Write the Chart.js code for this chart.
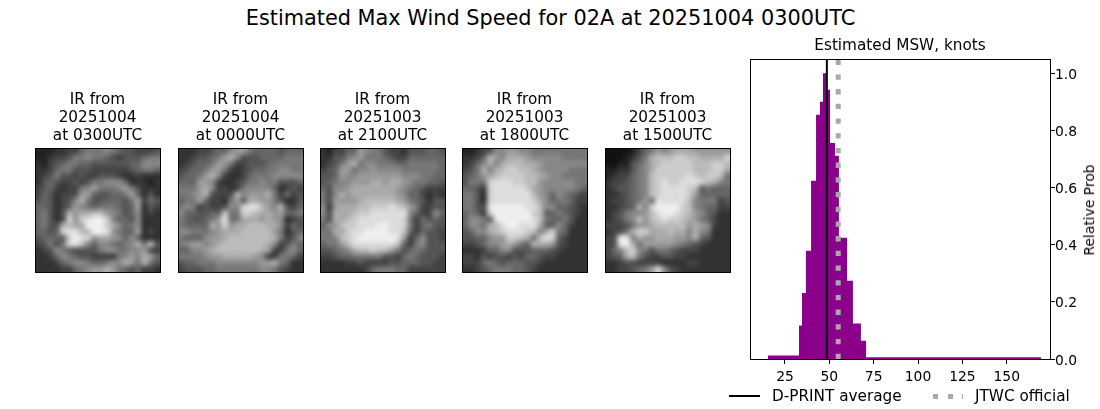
<!DOCTYPE html>
<html lang="en">

<head>
    <meta charset="UTF-8">
    <title>Estimated Max Wind Speed for 02A</title>
    <script src="https://cdn.jsdelivr.net/npm/chart.js"></script>
    <style>
        body { margin: 0; background: #fff; width: 1100px; height: 409px; overflow: hidden; position: relative; font-family: "DejaVu Sans"; color: #000; }
        canvas { position: absolute; }
        .txt { position: absolute; white-space: nowrap; line-height: 1; }
        #suptitle { left: 0; width: 1101px; top: 8px; text-align: center; font-size: 20.83px; }
        #ylabel { left: 1090px; top: 210px; font-size: 13.89px; transform: translate(-50%, -50%) rotate(-90deg); }
        .legend-text { top: 389px; font-size: 15.28px; }
        #key1 { position: absolute; left: 729px; top: 395px; width: 31px; height: 2px; background: #000; }
        #key2 { position: absolute; left: 933px; top: 394px; width: 30px; height: 5px; background: repeating-linear-gradient(90deg, #a9a9a9 0, #a9a9a9 5.3px, transparent 5.3px, transparent 14.7px); }
    </style>
</head>

<body>
    <div class="txt" id="suptitle">Estimated Max Wind Speed for 02A at 20251004 0300UTC</div>

    <canvas id="ir0" width="140" height="190" style="left:28px;top:85px"></canvas>
    <canvas id="ir1" width="140" height="190" style="left:171px;top:85px"></canvas>
    <canvas id="ir2" width="140" height="190" style="left:313px;top:85px"></canvas>
    <canvas id="ir3" width="140" height="190" style="left:455px;top:85px"></canvas>
    <canvas id="ir4" width="140" height="190" style="left:598px;top:85px"></canvas>

    <canvas id="hist" width="400" height="409" style="left:700px;top:0"></canvas>

    <div class="txt" id="ylabel">Relative Prob</div>
    <div id="key1"></div>
    <div class="txt legend-text" style="left:772px">D-PRINT average</div>
    <div id="key2"></div>
    <div class="txt legend-text" style="left:975px">JTWC official</div>

    <script>
        // histogram bins
        const binEdges = [15.4, 32.9, 34.6, 36.8, 39.7, 42.5, 44.7, 46.4, 48.1, 50.4, 53.2, 55.4, 60, 63.3, 67.8, 70.7, 169.3];
        const binHeights = [0.012, 0.117, 0.231, 0.379, 0.624, 0.855, 0.9, 1.0, 0.942, 0.756, 0.711, 0.424, 0.274, 0.124, 0.064, 0.006];
        const dprintAverage = 48.6;
        const jtwcOfficial = 55;
        const xTicks = [25, 50, 75, 100, 125, 150];
        const yTicks = [0, 0.2, 0.4, 0.6, 0.8, 1.0];

        const irDates = ['20251004', '20251004', '20251003', '20251003', '20251003'];
        const irTimes = ['0300', '0000', '2100', '1800', '1500'];

        // coarse grey levels of the IR images (one hex digit per cell, estimated by eye)
        const irGrey0 = [
            '22233446777876554445', '22344577877654555677', '32456776655555566888', '33467755544444456776',
            '34575545445554334333', '35654454577888633323', '45643447897778975333', '46534459965566796353',
            '5653458a755666579465', '66534698767776569354', '67535a9aabb987568343', '67535c9cdeec86658333',
            '6755abaaeeeca8678333', '6656cddbbeed97669343', '56666cedc9aa98686333', '45757cdb86887678a7a5',
            '34587655557887788954', '33468765544447898a96', '33346788766788a97a75', '33334467899a97656443'
        ];
        const irGrey1 = [
            '33344566899766665666', '33455679a85556666777', '34566799744555677777', '45667997434566778877',
            '56679a84334677788888', '66699843345778775556', '7779a844347888863454', '7789a5445a8999a74645',
            '67796443796aa9975335', '7874544588cddb98a546', '8665566b77ccbaa99667', '7655679d77aaa9a98345',
            '76666a9c9aabbbaa8465', '8877789aaabbbbb97356', '7666899abbbbbbba7458', '789989abbbbbbba84576',
            '66889abbbbbbba944786', '7777899aaaaa98447764', '566777888888899a7633', '45556677777778875433'
        ];
        const irGrey2 = [
            '32446698775443555665', '33557897776544666666', '34579a78877766777776', '45699788988887777776',
            '55698899999998887766', '56788999aa9aa9877665', '65889aaaaaaa98765444', '758a9aaaaaaa98664343',
            '759999abbbbba9765355', '849aaabbcccdcb974455', '85aaabccdddddd864486', '75aabcdddddddc746565',
            '689bccdddeeddc746755', '77aacddeeeeddb646554', '778bcdeeeeeed9468554', '6779bdddddddb6478555',
            '55678abbcbb975676555', '44566777775546765554', '33334454444556665544', '33333334677766444444'
        ];
        const irGrey3 = [
            '22345889988777777777', '3346a98aaa9888887777', '3468a8abbbaa98888888', '457a8abccbba98888777',
            '5679abccccbba9887777', '5777cdddccbb98888877', '6654cdddddca98888876', '7753cddddddb98687654',
            '7753cddddddca8677644', '7755deeeeeddb8866543', '6764ceeeeeecb6676543', '68876deeeeedb7667533',
            '6887abdeeddda6686433', '5688abcdddcb8ac76333', '5566899ccba7bdc64333', '4456889a976aaa954333',
            '33346688555666543333', '44354554546654433333', '44467656665543333333', '33456777665433333333'
        ];
        const irGrey4 = [
            '11112467989aaa999999', '1112357abbbccbbaaaac', '1122568abcccccbbbccb', '2233578accccccbbbcca',
            '2344678bcccccdcbccb7', '3445678bcdccdddcba87', '3455678bcddddcb67666', '3345678bcddddc966666',
            '34456797dddddb877745', '33456a8ceeeecb876644', '3457889bdeedcb986533', '34578b9bcdccba976433',
            '4445799abbbbb9a98433', '3457accaaabaa8a87333', '45dd8a99aaa998a65333', '45dea799999876543333',
            '468bc875776544433333', '456ab754455443333333', '33455444433334433333', '33445679c85433333333'
        ];
        const irGrids = [irGrey0, irGrey1, irGrey2, irGrey3, irGrey4];

        Chart.defaults.font.family = 'DejaVu Sans';
        Chart.defaults.color = '#000';
        Chart.defaults.animation = false;
        Chart.defaults.responsive = false;

        // matplotlib style box round the axes
        const framePlugin = {
            id: 'frame',
            afterDraw(chart) {
                const a = chart.chartArea;
                const ctx = chart.ctx;
                ctx.save();
                ctx.strokeStyle = '#000';
                ctx.lineWidth = 1;
                ctx.strokeRect(Math.round(a.left) + 0.5, Math.round(a.top) + 0.5, Math.round(a.width), Math.round(a.height));
                ctx.restore();
            }
        };

        // paints a grey grid into the axes, corners taken from the scales
        const greyGridPlugin = {
            id: 'greyGrid',
            beforeDatasetsDraw(chart, args, opts) {
                const rows = opts.rows;
                const n = rows.length;
                const small = document.createElement('canvas');
                small.width = n;
                small.height = n;
                const sctx = small.getContext('2d');
                rows.forEach((row, r) => {
                    row.split('').forEach((ch, c) => {
                        const v = parseInt(ch, 16) * 17;
                        sctx.fillStyle = 'rgb(' + v + ',' + v + ',' + v + ')';
                        sctx.fillRect(c, r, 1, 1);
                    });
                });
                const x0 = chart.scales.x.getPixelForValue(0);
                const x1 = chart.scales.x.getPixelForValue(n);
                const y0 = chart.scales.y.getPixelForValue(0);
                const y1 = chart.scales.y.getPixelForValue(n);
                chart.ctx.save();
                chart.ctx.imageSmoothingEnabled = true;
                chart.ctx.imageSmoothingQuality = 'high';
                chart.ctx.drawImage(small, x0, y0, x1 - x0, y1 - y0);
                chart.ctx.restore();
            }
        };

        irGrids.forEach((rows, i) => {
            new Chart('ir' + i, {
                type: 'scatter',
                data: { datasets: [] },
                plugins: [greyGridPlugin, framePlugin],
                options: {
                    layout: { padding: { left: 7, right: 8, top: 0, bottom: 3 } },
                    scales: {
                        x: { display: false, min: 0, max: rows.length },
                        y: { display: false, min: 0, max: rows.length, reverse: true }
                    },
                    plugins: {
                        legend: { display: false },
                        tooltip: { enabled: false },
                        greyGrid: { rows: rows },
                        title: {
                            display: true,
                            text: ['IR from', irDates[i], 'at ' + irTimes[i] + 'UTC'],
                            font: { size: 15.28, weight: 'normal', lineHeight: '18px' },
                            padding: { top: 6, bottom: 3 }
                        }
                    }
                }
            });
        });

        const histPoints = binEdges.map((e, i) => ({ x: e, y: i < binHeights.length ? binHeights[i] : 0 }));

        new Chart('hist', {
            type: 'scatter',
            data: {
                datasets: [
                    {
                        label: 'D-PRINT average',
                        data: [{ x: dprintAverage, y: 0 }, { x: dprintAverage, y: 1.05 }],
                        showLine: true,
                        borderColor: '#000',
                        borderWidth: 2,
                        pointRadius: 0,
                        order: 1
                    },
                    {
                        label: 'JTWC official',
                        data: [{ x: jtwcOfficial, y: 0 }, { x: jtwcOfficial, y: 1.05 }],
                        showLine: true,
                        borderColor: '#a9a9a9',
                        borderWidth: 5,
                        borderDash: [5.3, 9.4],
                        pointRadius: 0,
                        order: 1
                    },
                    {
                        label: 'hist',
                        data: histPoints,
                        showLine: true,
                        stepped: 'before',
                        fill: 'origin',
                        backgroundColor: '#8b008b',
                        borderWidth: 0,
                        pointRadius: 0,
                        order: 2
                    }
                ]
            },
            plugins: [framePlugin],
            options: {
                layout: { padding: { left: 50, right: 0, top: 37, bottom: 0 } },
                scales: {
                    x: {
                        type: 'linear',
                        min: 5.27,
                        max: 174.4,
                        afterFit: axis => { axis.height = 50; },
                        afterBuildTicks: axis => { axis.ticks = xTicks.map(v => ({ value: v })); },
                        grid: { drawOnChartArea: false, tickLength: 5, tickColor: '#000' },
                        border: { color: '#000' },
                        ticks: { font: { size: 13.89 }, padding: 5, maxRotation: 0, autoSkip: false }
                    },
                    y: {
                        position: 'right',
                        min: 0,
                        max: 1.05,
                        afterFit: axis => { axis.width = 50; },
                        afterBuildTicks: axis => { axis.ticks = yTicks.map(v => ({ value: v })); },
                        grid: { drawOnChartArea: false, tickLength: 5, tickColor: '#000' },
                        border: { color: '#000' },
                        ticks: { font: { size: 13.89 }, padding: 0, labelOffset: 2, autoSkip: false, callback: v => v.toFixed(1) }
                    }
                },
                plugins: {
                    legend: { display: false },
                    tooltip: { enabled: false },
                    title: {
                        display: true,
                        fullSize: false,
                        text: 'Estimated MSW, knots',
                        font: { size: 15.28, weight: 'normal', lineHeight: '18px' },
                        padding: { top: 0, bottom: 4 }
                    }
                }
            }
        });
    </script>
</body>

</html>
